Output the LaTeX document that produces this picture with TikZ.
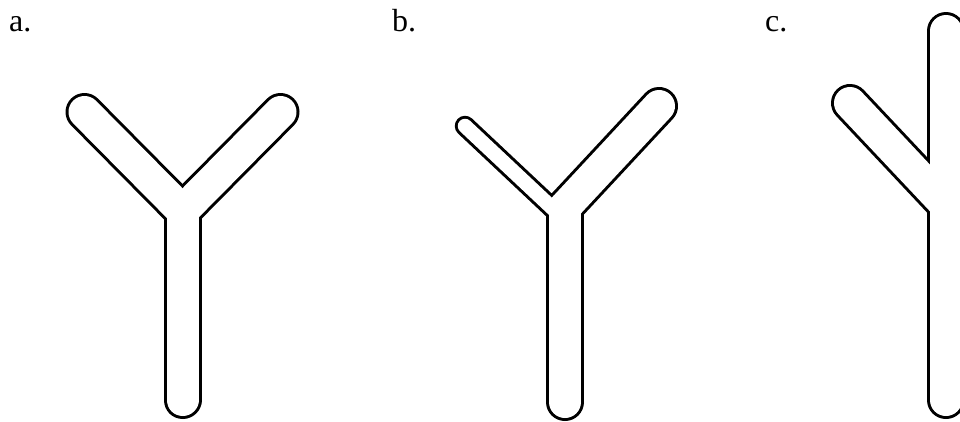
\documentclass[tikz,border=0pt]{standalone}
\usepackage{fontspec}
\setmainfont{Liberation Serif}
\usepackage{tikz}

\begin{document}
\begin{tikzpicture}[x=1pt,y=-1pt,
  rimout/.style={line width=38pt,line cap=round,black},
  rimin/.style={line width=32pt,line cap=round,white},
  thinout/.style={line width=20.5pt,line cap=round,black},
  thinin/.style={line width=14.5pt,line cap=round,white},
  lbl/.style={anchor=base west,inner sep=0pt,font=\fontsize{32}{38}\selectfont}]
  \useasboundingbox (0,0) rectangle (960,421);
  \clip (0,0) rectangle (960,421);
  % a. symmetric Y
  \coordinate (aC) at (182.5,211); \coordinate (aL) at (84.5,112);
  \coordinate (aR) at (280.5,112); \coordinate (aS) at (182.5,400);
  % b. thin left arm
  \coordinate (bC) at (565,207);  \coordinate (bR) at (659,106);
  \coordinate (bS) at (565,402);  \coordinate (bT) at (565,220);
  \coordinate (bL) at (465,126);
  % c. arm on the side of a long tube
  \coordinate (cC) at (946,205);  \coordinate (cL) at (850,103);
  \coordinate (cU) at (946,31);   \coordinate (cS) at (946,400);
  \node[lbl](la) at (9,31)   {a.};
  \node[lbl](lb) at (392,31) {b.};
  \node[lbl](lc) at (765,31) {c.};
  \draw[rimout](aC)--(aL); \draw[rimout](aC)--(aR); \draw[rimout](aC)--(aS);
  \draw[rimin](aC)--(aL);  \draw[rimin](aC)--(aR);  \draw[rimin](aC)--(aS);
  \draw[rimout](bC)--(bR); \draw[rimout](bC)--(bS); \draw[thinout](bT)--(bL);
  \draw[rimin](bC)--(bR);  \draw[rimin](bC)--(bS);  \draw[thinin](bT)--(bL);
  \draw[rimout](cU)--(cS); \draw[rimout](cC)--(cL);
  \draw[rimin](cU)--(cS);  \draw[rimin](cC)--(cL);
\end{tikzpicture}
\end{document}
